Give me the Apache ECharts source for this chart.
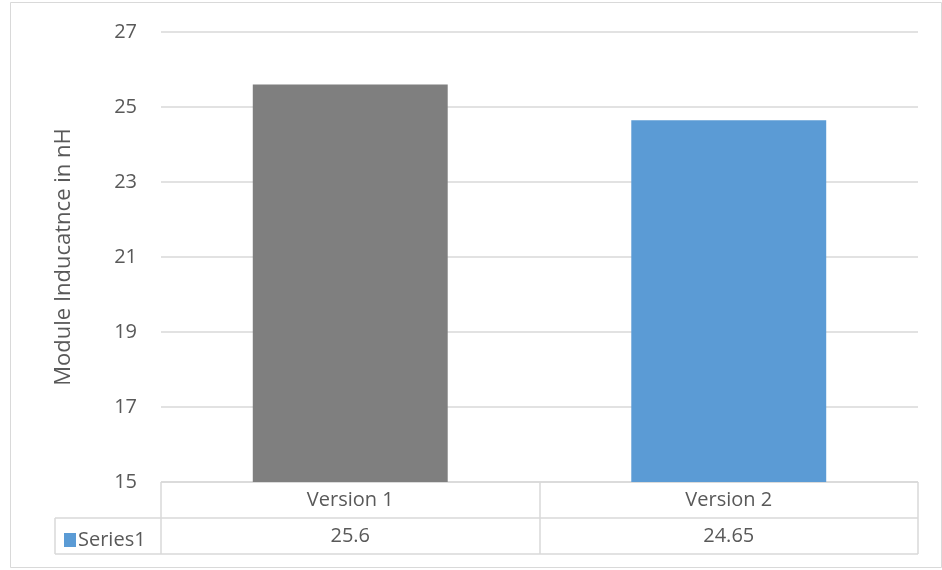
<!DOCTYPE html>
<html>
<head>
<meta charset="utf-8">
<script src="https://cdn.jsdelivr.net/npm/echarts@6/dist/echarts.min.js"></script>
<style>
  html, body { margin: 0; padding: 0; background: #fff; }
  #main { width: 942px; height: 570px; }
</style>
</head>
<body>
<div id="main"></div>
<script>
const categories = ['Version 1', 'Version 2'];
const values = [25.6, 24.65];
const barColors = ['#7f7f7f', '#5b9bd5'];
const seriesName = 'Series1';
const yTitle = 'Module Inducatnce in nH';

const textColor = '#595959';
const lineColor = '#d9d9d9';
const font = '"Open Sans", "Noto Sans", sans-serif';

const chart = echarts.init(document.getElementById('main'));

// table grid lines below the plot (Excel data table)
const tableLines = [
  [161, 482, 918, 482],
  [55, 518, 918, 518],
  [55, 554, 918, 554],
  [55, 518, 55, 554],
  [161, 482, 161, 554],
  [540, 482, 540, 554],
  [918, 482, 918, 554]
].map(l => ({
  type: 'line',
  shape: { x1: l[0], y1: l[1], x2: l[2], y2: l[3] },
  style: { stroke: lineColor, lineWidth: 1.5 },
  silent: true
}));

chart.setOption({
  animation: false,
  backgroundColor: '#fff',
  textStyle: { fontFamily: font, color: textColor },
  grid: { left: 161, right: 24, top: 32, bottom: 88, containLabel: false },
  legend: {
    data: [seriesName],
    left: 59, top: 525,
    icon: 'rect', itemWidth: 12, itemHeight: 14, itemGap: 4,
    textStyle: { fontSize: 20, color: textColor, fontFamily: font, padding: [0, 0, 0, -3] }
  },
  xAxis: {
    type: 'category',
    data: categories,
    axisLine: { show: false },
    axisTick: { show: false },
    axisLabel: {
      margin: 0,
      interval: 0,
      formatter: (v, i) => '{h|' + v + '}\n{v|' + values[i] + '}',
      rich: {
        h: { fontSize: 20, lineHeight: 36, color: textColor, fontFamily: font },
        v: { fontSize: 20, lineHeight: 36, color: textColor, fontFamily: font }
      }
    }
  },
  yAxis: {
    type: 'value',
    min: 15, max: 27, interval: 2,
    name: yTitle,
    nameLocation: 'middle',
    nameGap: 86,
    nameTextStyle: { fontSize: 22, color: textColor, fontFamily: font },
    axisLine: { show: false },
    axisTick: { show: false },
    axisLabel: { fontSize: 20, color: textColor, margin: 24, fontFamily: font },
    splitLine: { lineStyle: { color: lineColor, width: 1.5 } }
  },
  series: [{
    name: seriesName,
    type: 'bar',
    barWidth: '51.5%',
    itemStyle: { color: barColors[1] },
    data: values.map((v, i) => ({ value: v, itemStyle: { color: barColors[i] } }))
  }],
  graphic: [
    {
      type: 'rect',
      shape: { x: 10.5, y: 2.5, width: 931, height: 565 },
      style: { fill: 'none', stroke: lineColor, lineWidth: 1 },
      silent: true
    },
    ...tableLines
  ]
});
</script>
</body>
</html>
